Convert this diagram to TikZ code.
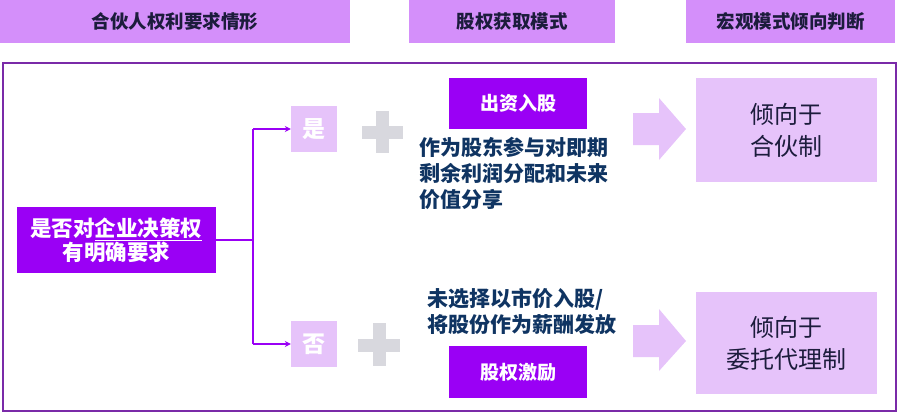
\documentclass[tikz,border=0pt]{standalone}
\usepackage{fontspec}
\newfontfamily\cjk{Noto Sans CJK SC}
\usetikzlibrary{arrows.meta}
\definecolor{hdr}{HTML}{D48FFA}
\definecolor{vio}{HTML}{9A00F5}
\definecolor{lil}{HTML}{E6C3FA}
\definecolor{frm}{HTML}{7A2AA8}
\definecolor{navy}{HTML}{0F3462}
\definecolor{ink}{HTML}{1C1C3C}
\definecolor{plusg}{HTML}{D8D8DE}
\tikzset{
  hdrbox/.style={fill=hdr,inner sep=0pt,minimum height=43pt,font=\cjk\bfseries\fontsize{18.5}{20}\selectfont,text=ink},
  viobox/.style={fill=vio,inner sep=0pt,text=white,font=\cjk\bfseries\fontsize{19}{22}\selectfont},
  lilbox/.style={fill=lil,inner sep=0pt},
  ans/.style={lilbox,minimum width=46pt,minimum height=46pt,text=white,font=\cjk\bfseries\fontsize{23}{24}\selectfont},
  res/.style={lilbox,minimum width=181pt,align=center,text=ink,font=\cjk\fontsize{24}{32}\selectfont},
  body/.style={inner sep=0pt,align=left,text=navy,font=\cjk\bfseries\fontsize{21}{26}\selectfont},
  conn/.style={draw=vio,line width=2.3pt},
  bigarrow/.style={fill=lil,draw=none},
  plus/.style={fill=plusg,draw=none}
}
\begin{document}
\begin{tikzpicture}[x=1pt,y=-1pt]
\useasboundingbox (0,0) rectangle (898,413);
% headers
\node[hdrbox,minimum width=350pt] (h1) at (175,21.5) {合伙人权利要求情形};
\node[hdrbox,minimum width=206pt] (h2) at (512,21.5) {股权获取模式};
\node[hdrbox,minimum width=209pt] (h3) at (790.5,21.5) {宏观模式倾向判断};
% frame
\draw[frm,line width=1.5pt] (3,63) rectangle (896,411);
% left box
\node[viobox,minimum width=199pt,minimum height=66pt,align=center,font=\cjk\bfseries\fontsize{21.5}{24}\selectfont] (lb) at (116.5,240) {是否对\underline{企业决策权}\\有明确要求};
% answers
\node[ans] (yes) at (314,129) {是};
\node[ans] (no) at (314,344) {否};
% connectors
\coordinate (jt) at (253,129);
\coordinate (jb) at (253,344);
\draw[conn] (lb.east) -- (lb.east -| jt);
\draw[conn] (jt) -- (jb);
\draw[conn,-{Stealth[length=6pt,width=6pt]}] (jt) -- (yes.west);
\draw[conn,-{Stealth[length=6pt,width=6pt]}] (jb) -- (no.west);
% plus signs
\fill[plus] (362,125.5) rectangle (403,138.5);
\fill[plus] (376,111) rectangle (389,153);
\fill[plus] (358,338.5) rectangle (400,351.5);
\fill[plus] (372.5,323) rectangle (385.5,366);
% mode boxes
\node[viobox,minimum width=138pt,minimum height=51pt] (m1) at (518,103.5) {出资入股};
\node[viobox,minimum width=138pt,minimum height=52pt] (m2) at (518,372) {股权激励};
\node[body,anchor=north west] (t1) at (419,137) {作为股东参与对即期\\剩余利润分配和未来\\价值分享};
\node[body,anchor=north west] (t2) at (427,288) {未选择以市价入股/\\将股份作为薪酬发放};
% big arrows
\fill[bigarrow] (633,113) -- (659,113) -- (659,98) -- (686,129) -- (659,160) -- (659,145) -- (633,145) -- cycle;
\fill[bigarrow] (633,325) -- (659,325) -- (659,309) -- (686,341) -- (659,371) -- (659,357) -- (633,357) -- cycle;
% results
\node[res,minimum height=104pt] (r1) at (786.5,130) {倾向于\\合伙制};
\node[res,minimum height=102pt] (r2) at (786.5,343) {倾向于\\委托代理制};
\end{tikzpicture}
\end{document}
